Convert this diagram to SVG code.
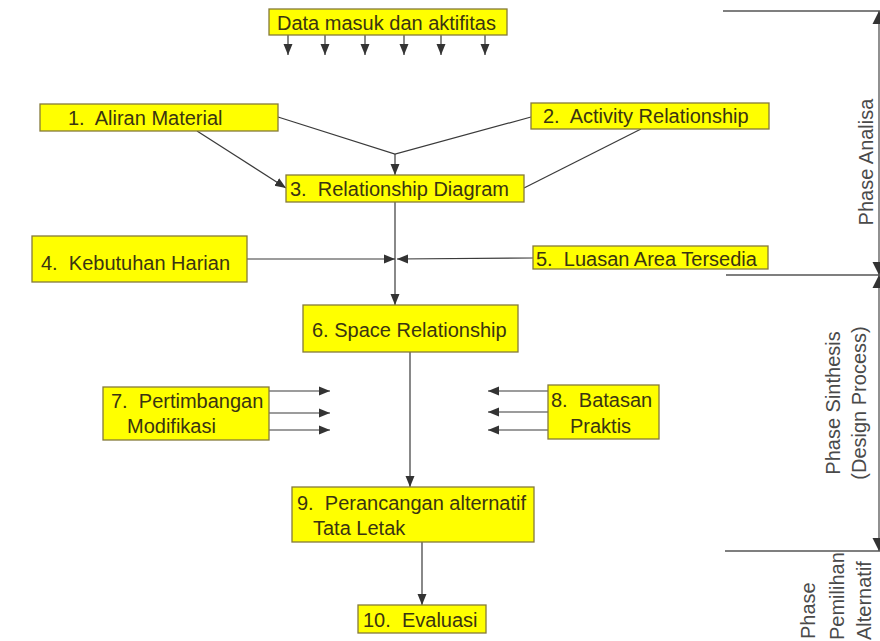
<svg xmlns="http://www.w3.org/2000/svg" width="880" height="641" viewBox="0 0 880 641">
<style>
.box{fill:#ffff00;stroke:#857a3a;stroke-width:1.3}
.t{font-family:"Liberation Sans",Arial,sans-serif;font-size:20px;fill:#3a3412;white-space:pre}
.ph{font-family:"Liberation Sans",Arial,sans-serif;font-size:20px;fill:#4a4a4a;white-space:pre}
.c{stroke:#3a3a3a;stroke-width:1.2;fill:none}
.pl{stroke:#555;stroke-width:1.3;fill:none}
</style>
<defs>
<marker id="ah" markerUnits="userSpaceOnUse" markerWidth="12" markerHeight="10" refX="11" refY="5" orient="auto"><path d="M0,0.5 L11,5 L0,9.5 z" fill="#333"/></marker>
<marker id="ahb" markerUnits="userSpaceOnUse" markerWidth="14" markerHeight="14" refX="13" refY="7" orient="auto-start-reverse"><path d="M0,0.5 L13,7 L0,13.5 z" fill="#333"/></marker>
</defs>
<rect width="880" height="641" fill="#fff"/>
<g id="connectors">
<line class="c" x1="288" y1="35" x2="288" y2="55" marker-end="url(#ah)"/>
<line class="c" x1="325" y1="35" x2="325" y2="55" marker-end="url(#ah)"/>
<line class="c" x1="365" y1="35" x2="365" y2="55" marker-end="url(#ah)"/>
<line class="c" x1="404" y1="35" x2="404" y2="55" marker-end="url(#ah)"/>
<line class="c" x1="441" y1="35" x2="441" y2="55" marker-end="url(#ah)"/>
<line class="c" x1="485" y1="35" x2="485" y2="55" marker-end="url(#ah)"/>
<polyline class="c" points="278,117 395,154 531,117"/>
<line class="c" x1="395" y1="154" x2="395" y2="175" marker-end="url(#ah)"/>
<line class="c" x1="197" y1="131" x2="286" y2="188" marker-end="url(#ah)"/>
<line class="c" x1="641" y1="129" x2="524" y2="188"/>
<line class="c" x1="395" y1="202" x2="395" y2="305" marker-end="url(#ah)"/>
<line class="c" x1="247" y1="259" x2="395" y2="259" marker-end="url(#ah)"/>
<line class="c" x1="533" y1="258" x2="397" y2="259" marker-end="url(#ah)"/>
<line class="c" x1="410" y1="352" x2="410" y2="487" marker-end="url(#ah)"/>
<line class="c" x1="269" y1="391" x2="330" y2="391" marker-end="url(#ah)"/>
<line class="c" x1="269" y1="413" x2="330" y2="413" marker-end="url(#ah)"/>
<line class="c" x1="269" y1="430" x2="330" y2="430" marker-end="url(#ah)"/>
<line class="c" x1="548" y1="391" x2="488" y2="391" marker-end="url(#ah)"/>
<line class="c" x1="548" y1="412" x2="488" y2="412" marker-end="url(#ah)"/>
<line class="c" x1="548" y1="430" x2="488" y2="430" marker-end="url(#ah)"/>
<line class="c" x1="422" y1="542" x2="422" y2="605" marker-end="url(#ah)"/>
</g>
<g id="phases">
<line class="pl" x1="723" y1="11" x2="880" y2="11"/>
<line class="pl" x1="726" y1="275" x2="880" y2="275"/>
<line class="pl" x1="725" y1="551" x2="880" y2="551"/>
<line class="pl" stroke="#999" x1="879" y1="11" x2="879" y2="275" marker-start="url(#ahb)" marker-end="url(#ahb)"/>
<line class="pl" stroke="#999" x1="879" y1="275" x2="879" y2="551" marker-start="url(#ahb)" marker-end="url(#ahb)"/>
<text class="ph" transform="translate(873,162) rotate(-90)" text-anchor="middle">Phase Analisa</text>
<text class="ph" transform="translate(840,403) rotate(-90)" text-anchor="middle">Phase Sinthesis</text>
<text class="ph" transform="translate(866,403) rotate(-90)" text-anchor="middle">(Design Process)</text>
<text class="ph" transform="translate(815,639) rotate(-90)">Phase</text>
<text class="ph" transform="translate(844,640) rotate(-90)">Pemilihan</text>
<text class="ph" transform="translate(871,640) rotate(-90)">Alternatif</text>
</g>
<g id="n0"><rect class="box" x="269" y="9" width="238" height="26"/><text class="t" x="277" y="30">Data masuk dan aktifitas</text></g>
<g id="n1"><rect class="box" x="40" y="104" width="238" height="27"/><text class="t" x="68" y="125">1.  Aliran Material</text></g>
<g id="n2"><rect class="box" x="531" y="103" width="238" height="26"/><text class="t" x="543" y="123">2.  Activity Relationship</text></g>
<g id="n3"><rect class="box" x="286" y="175" width="238" height="27"/><text class="t" x="290" y="196">3.  Relationship Diagram</text></g>
<g id="n4"><rect class="box" x="32" y="236" width="215" height="46"/><text class="t" x="41" y="270">4.  Kebutuhan Harian</text></g>
<g id="n5"><rect class="box" x="533" y="246" width="235" height="23"/><text class="t" x="536" y="266">5.  Luasan Area Tersedia</text></g>
<g id="n6"><rect class="box" x="303" y="305" width="215" height="47"/><text class="t" x="312" y="337">6. Space Relationship</text></g>
<g id="n7"><rect class="box" x="103" y="387" width="166" height="53"/><text class="t" x="111" y="408">7.  Pertimbangan</text><text class="t" x="127" y="433">Modifikasi</text></g>
<g id="n8"><rect class="box" x="548" y="385" width="111" height="54"/><text class="t" x="551" y="407">8.  Batasan</text><text class="t" x="570" y="433">Praktis</text></g>
<g id="n9"><rect class="box" x="292" y="487" width="242" height="55"/><text class="t" x="297" y="510">9.  Perancangan alternatif</text><text class="t" x="313" y="535">Tata Letak</text></g>
<g id="n10"><rect class="box" x="358" y="605" width="128" height="28"/><text class="t" x="363" y="627">10.  Evaluasi</text></g>
</svg>
